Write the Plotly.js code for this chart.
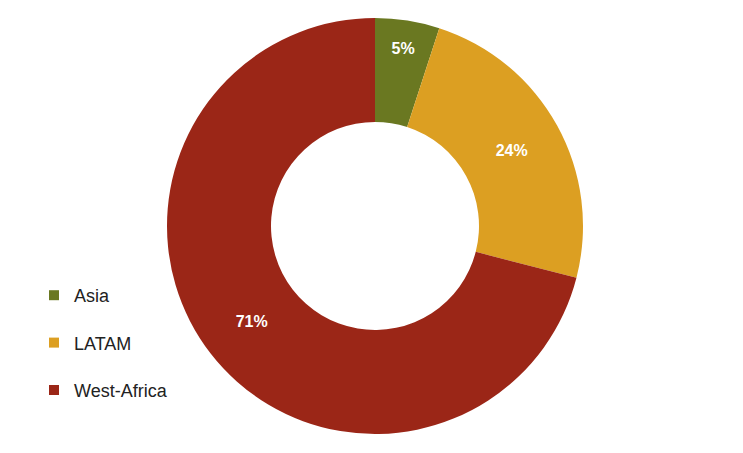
<!DOCTYPE html>
<html><head><meta charset="utf-8">
<script src="https://cdn.plot.ly/plotly-3.0.1.min.js"></script>
<style>html,body{margin:0;padding:0;background:#fff}#c{width:743px;height:453px}</style>
</head><body><div id="c"></div>
<script>
var regions = ["Asia", "LATAM", "West-Africa"];
var shares = [5, 24, 71];
var colors = ["#6a7821", "#dc9f22", "#9b2617"];

var W = 743, H = 453, cx = 375, cy = 226, R = 208;
var traces = [{
  type: 'pie', labels: regions, values: shares, hole: 0.5, sort: false,
  direction: 'clockwise', rotation: 0,
  marker: {colors: colors, line: {width: 0}},
  texttemplate: '<b>%{percent:.0%}</b>', textposition: 'inside',
  insidetextorientation: 'horizontal',
  textfont: {family: 'Liberation Sans, Arial, sans-serif', size: 16, color: '#ffffff'},
  hoverinfo: 'label+percent', showlegend: false,
  domain: {x: [(cx - R) / W, (cx + R) / W], y: [(H - cy - R) / H, (H - cy + R) / H]}
}];
regions.forEach(function (r, i) {
  traces.push({type: 'scatter', mode: 'markers', x: [null], y: [null], name: r,
    legendgroup: r, marker: {symbol: 'square', size: 10, color: colors[i]}, hoverinfo: 'skip'});
});
var layout = {
  width: W, height: H, margin: {l: 0, r: 0, t: 0, b: 0},
  paper_bgcolor: '#fff', plot_bgcolor: '#fff',
  xaxis: {visible: false}, yaxis: {visible: false},
  showlegend: true,
  legend: {x: 34 / W, xanchor: 'left', y: 1 - 277 / H, yanchor: 'top',
    font: {family: 'Liberation Sans, Arial, sans-serif', size: 18, color: '#222'},
    tracegroupgap: 21, itemwidth: 30, bgcolor: 'rgba(0,0,0,0)'}
};
Plotly.newPlot('c', traces, layout, {displayModeBar: false, staticPlot: true});
</script></body></html>
